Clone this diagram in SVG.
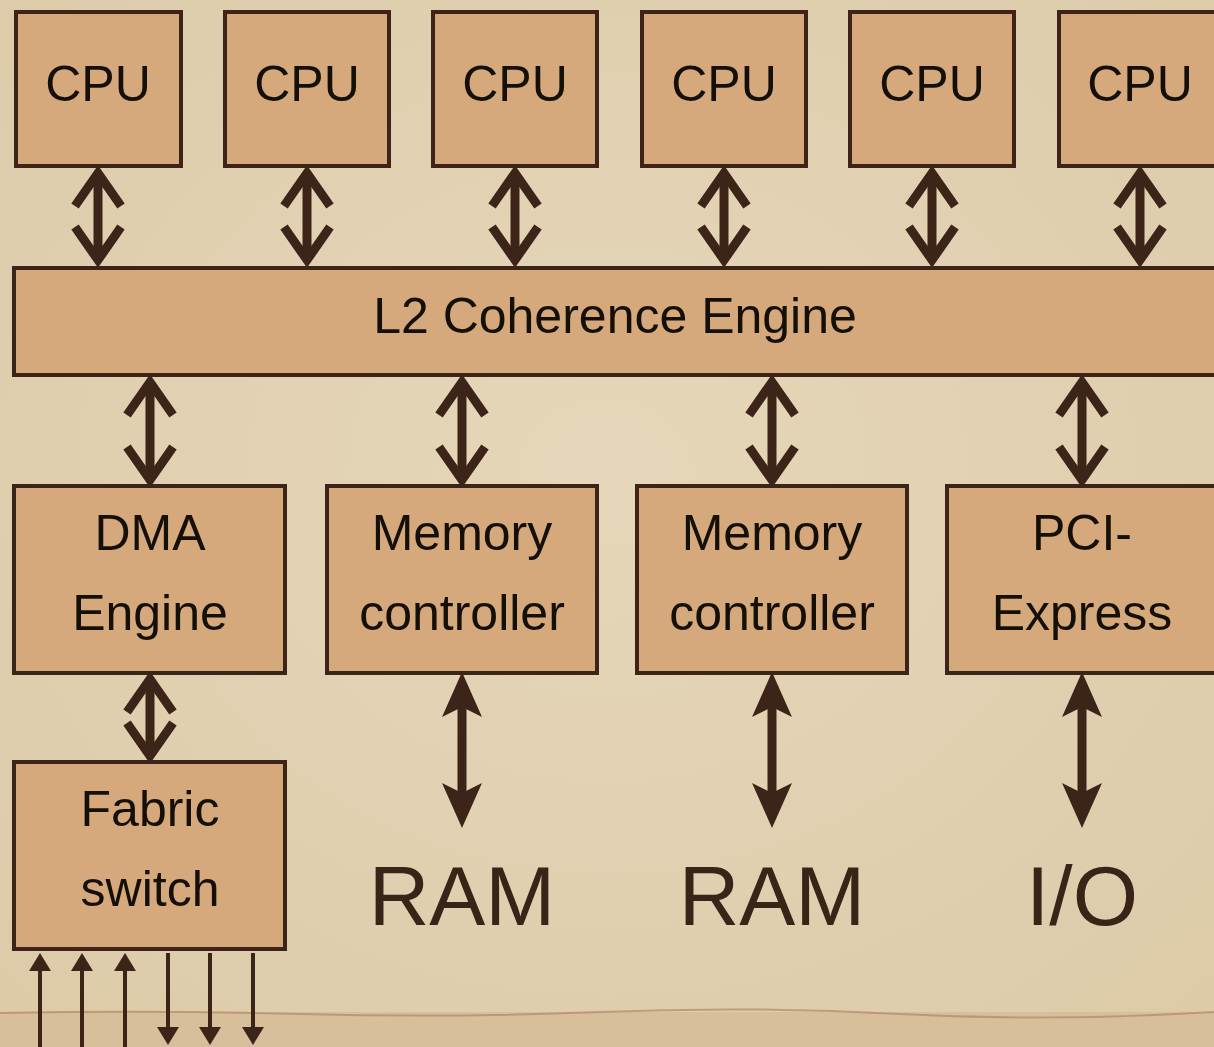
<svg xmlns="http://www.w3.org/2000/svg" width="1214" height="1047" viewBox="0 0 1214 1047">
<style>
.box{fill:#d6a97c;stroke:#3d2419;stroke-width:4}
.t{font-family:"Liberation Sans",Arial,sans-serif;fill:#141008;text-anchor:middle}
.cpu{font-size:50px}
.lbl{font-size:50px}
.big{font-family:"Liberation Sans",Arial,sans-serif;fill:#3a2418;text-anchor:middle;font-size:84px}
.shaft{stroke:#3d2419;stroke-width:9;fill:none}
.chev{stroke:#3d2419;stroke-width:9;fill:none;stroke-linejoin:miter;stroke-miterlimit:10}
.thin{stroke:#3d2419;stroke-width:4;fill:none}
.head{fill:#3d2419}
</style>
<defs>
<radialGradient id="bg" cx="50%" cy="45%" r="75%">
<stop offset="0" stop-color="#e6d7ba"/>
<stop offset="1" stop-color="#dccaa8"/>
</radialGradient>
<path id="fh" d="M0,0 L20,45 L0,35 L-20,45 Z"/>
<path id="sh" d="M0,0 L11,18 L-11,18 Z"/>
</defs>
<rect x="0" y="0" width="1214" height="1047" fill="url(#bg)"/>
<rect x="0" y="1012" width="1214" height="35" fill="#d8bf9c"/>
<path d="M0,1013 Q150,1010 300,1014 T600,1012 T900,1014 T1214,1012" stroke="#b08866" stroke-width="2" fill="none" opacity="0.7"/>

<g id="connectors">
<g transform="translate(98,0)"><line class="shaft" x1="0" y1="176" x2="0" y2="258"/><path class="chev" d="M-23,206 L0,173 L23,206 M-23,227 L0,260 L23,227"/></g>
<g transform="translate(307,0)"><line class="shaft" x1="0" y1="176" x2="0" y2="258"/><path class="chev" d="M-23,206 L0,173 L23,206 M-23,227 L0,260 L23,227"/></g>
<g transform="translate(515,0)"><line class="shaft" x1="0" y1="176" x2="0" y2="258"/><path class="chev" d="M-23,206 L0,173 L23,206 M-23,227 L0,260 L23,227"/></g>
<g transform="translate(724,0)"><line class="shaft" x1="0" y1="176" x2="0" y2="258"/><path class="chev" d="M-23,206 L0,173 L23,206 M-23,227 L0,260 L23,227"/></g>
<g transform="translate(932,0)"><line class="shaft" x1="0" y1="176" x2="0" y2="258"/><path class="chev" d="M-23,206 L0,173 L23,206 M-23,227 L0,260 L23,227"/></g>
<g transform="translate(1140,0)"><line class="shaft" x1="0" y1="176" x2="0" y2="258"/><path class="chev" d="M-23,206 L0,173 L23,206 M-23,227 L0,260 L23,227"/></g>
<g transform="translate(150,0)"><line class="shaft" x1="0" y1="385" x2="0" y2="476"/><path class="chev" d="M-23,415 L0,382 L23,415 M-23,447 L0,480 L23,447"/></g>
<g transform="translate(462,0)"><line class="shaft" x1="0" y1="385" x2="0" y2="476"/><path class="chev" d="M-23,415 L0,382 L23,415 M-23,447 L0,480 L23,447"/></g>
<g transform="translate(772,0)"><line class="shaft" x1="0" y1="385" x2="0" y2="476"/><path class="chev" d="M-23,415 L0,382 L23,415 M-23,447 L0,480 L23,447"/></g>
<g transform="translate(1082,0)"><line class="shaft" x1="0" y1="385" x2="0" y2="476"/><path class="chev" d="M-23,415 L0,382 L23,415 M-23,447 L0,480 L23,447"/></g>
<g transform="translate(150,0)"><line class="shaft" x1="0" y1="682" x2="0" y2="753"/><path class="chev" d="M-23,712 L0,679 L23,712 M-23,723 L0,756 L23,723"/></g>
<g transform="translate(462,0)"><line class="shaft" x1="0" y1="700" x2="0" y2="800"/><use href="#fh" class="head" transform="translate(0,672)"/><use href="#fh" class="head" transform="translate(0,828) scale(1,-1)"/></g>
<g transform="translate(772,0)"><line class="shaft" x1="0" y1="700" x2="0" y2="800"/><use href="#fh" class="head" transform="translate(0,672)"/><use href="#fh" class="head" transform="translate(0,828) scale(1,-1)"/></g>
<g transform="translate(1082,0)"><line class="shaft" x1="0" y1="700" x2="0" y2="800"/><use href="#fh" class="head" transform="translate(0,672)"/><use href="#fh" class="head" transform="translate(0,828) scale(1,-1)"/></g>
<g transform="translate(40,0)"><line class="thin" x1="0" y1="968" x2="0" y2="1047"/><use href="#sh" class="head" transform="translate(0,953)"/></g>
<g transform="translate(82,0)"><line class="thin" x1="0" y1="968" x2="0" y2="1047"/><use href="#sh" class="head" transform="translate(0,953)"/></g>
<g transform="translate(125,0)"><line class="thin" x1="0" y1="968" x2="0" y2="1047"/><use href="#sh" class="head" transform="translate(0,953)"/></g>
<g transform="translate(168,0)"><line class="thin" x1="0" y1="953" x2="0" y2="1030"/><use href="#sh" class="head" transform="translate(0,1045) scale(1,-1)"/></g>
<g transform="translate(210,0)"><line class="thin" x1="0" y1="953" x2="0" y2="1030"/><use href="#sh" class="head" transform="translate(0,1045) scale(1,-1)"/></g>
<g transform="translate(253,0)"><line class="thin" x1="0" y1="953" x2="0" y2="1030"/><use href="#sh" class="head" transform="translate(0,1045) scale(1,-1)"/></g>
</g>

<g id="cpu1"><rect class="box" x="16" y="12" width="165" height="154"/><text class="t cpu" x="98" y="101">CPU</text></g>
<g id="cpu2"><rect class="box" x="225" y="12" width="164" height="154"/><text class="t cpu" x="307" y="101">CPU</text></g>
<g id="cpu3"><rect class="box" x="433" y="12" width="164" height="154"/><text class="t cpu" x="515" y="101">CPU</text></g>
<g id="cpu4"><rect class="box" x="642" y="12" width="164" height="154"/><text class="t cpu" x="724" y="101">CPU</text></g>
<g id="cpu5"><rect class="box" x="850" y="12" width="164" height="154"/><text class="t cpu" x="932" y="101">CPU</text></g>
<g id="cpu6"><rect class="box" x="1059" y="12" width="166" height="154"/><text class="t cpu" x="1140" y="101">CPU</text></g>

<g id="l2"><rect class="box" x="14" y="268" width="1210" height="107"/><text class="t" x="615" y="333" font-size="50">L2 Coherence Engine</text></g>

<g id="dma"><rect class="box" x="14" y="486" width="271" height="187"/><text class="t lbl" x="150" y="550">DMA</text><text class="t lbl" x="150" y="630">Engine</text></g>
<g id="mem1"><rect class="box" x="327" y="486" width="270" height="187"/><text class="t lbl" x="462" y="550">Memory</text><text class="t lbl" x="462" y="630">controller</text></g>
<g id="mem2"><rect class="box" x="637" y="486" width="270" height="187"/><text class="t lbl" x="772" y="550">Memory</text><text class="t lbl" x="772" y="630">controller</text></g>
<g id="pci"><rect class="box" x="947" y="486" width="277" height="187"/><text class="t lbl" x="1082" y="550">PCI-</text><text class="t lbl" x="1082" y="630">Express</text></g>
<g id="fabric"><rect class="box" x="14" y="762" width="271" height="187"/><text class="t lbl" x="150" y="826">Fabric</text><text class="t lbl" x="150" y="906">switch</text></g>

<g id="ram1"><text class="big" x="462" y="925">RAM</text></g>
<g id="ram2"><text class="big" x="772" y="925">RAM</text></g>
<g id="io"><text class="big" x="1082" y="925">I/O</text></g>
</svg>
